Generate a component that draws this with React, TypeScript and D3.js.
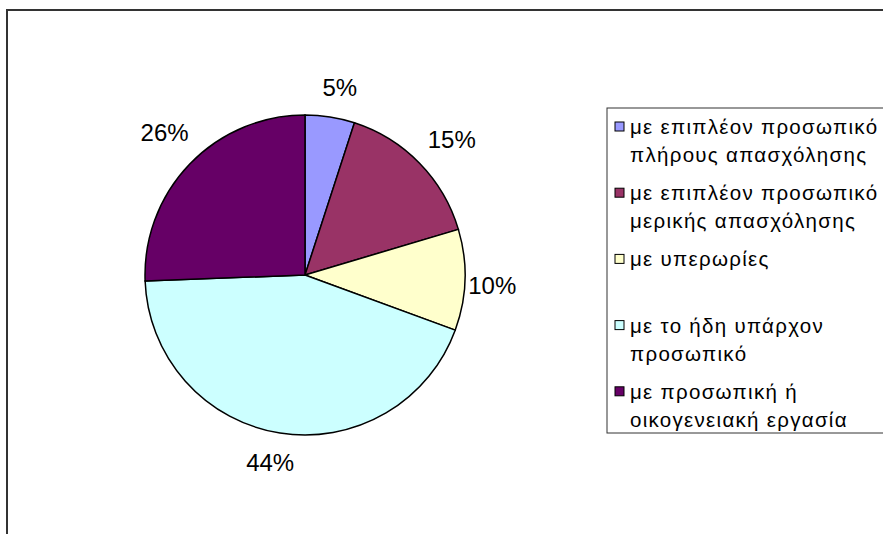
import React from 'react';
import * as d3 from 'd3';

// categories (legend lines, wrapped as in the original)
const categories = [
  ['με επιπλέον προσωπικό', 'πλήρους απασχόλησης'],
  ['με επιπλέον προσωπικό', 'μερικής απασχόλησης'],
  ['με υπερωρίες'],
  ['με το ήδη υπάρχον', 'προσωπικό'],
  ['με προσωπική ή', 'οικογενειακή εργασία'],
];
const values = [5, 15.4, 10.2, 43.8, 25.6];
const labels = ['5%', '15%', '10%', '44%', '26%'];
const colors = ['#9999FF', '#993366', '#FFFFCC', '#CCFFFF', '#660066'];

const W = 883;
const H = 534;
const cx = 305;
const cy = 275;
const radius = 160;
const font = '"Liberation Sans", Arial, sans-serif';

const App = () => {
  const pie = d3.pie<number>().sort(null).value((d) => d);
  const arcs = pie(values);
  const arc = d3.arc<d3.PieArcDatum<number>>().innerRadius(0).outerRadius(radius);

  // outside labels: wider text boxes sit further out on the diagonals
  const labelPos = (a: d3.PieArcDatum<number>) => {
    const ang = (a.startAngle + a.endAngle) / 2 + (1.5 * Math.PI) / 180;
    const r = 186 + 14 * Math.abs(Math.sin(2 * ang));
    return [r * Math.sin(ang), -r * Math.cos(ang)];
  };

  // legend layout
  const legendX = 607;
  const legendY = 108;
  const slot = 66.2;
  const lineGap = 28;
  const firstLine = 126.5;

  return (
    <svg
      width={W}
      height={H}
      style={{ position: 'absolute', left: 0, top: 0, background: '#fff' }}
    >
      <rect x={7} y={10} width={W + 20} height={H + 20} fill="none" stroke="#333" strokeWidth={2} />

      <g transform={`translate(${cx},${cy})`}>
        {arcs.map((a, i) => (
          <path key={i} d={arc(a) || ''} fill={colors[i]} stroke="#000" strokeWidth={1.5} />
        ))}
        {arcs.map((a, i) => {
          const [x, y] = labelPos(a);
          return (
            <text
              key={i}
              x={x}
              y={y}
              textAnchor="middle"
              dominantBaseline="central"
              fontFamily={font}
              fontSize={24}
              fill="#000"
            >
              {labels[i]}
            </text>
          );
        })}
      </g>

      <rect x={legendX} y={legendY} width={400} height={325} fill="#fff" stroke="#333" strokeWidth={1} />
      {categories.map((lines, i) => {
        const y0 = firstLine + i * slot;
        return (
          <g key={i}>
            <rect x={615} y={y0 - 4.5} width={9} height={9} fill={colors[i]} stroke="#000" strokeWidth={1} />
            {lines.map((t, j) => (
              <text
                key={j}
                x={630}
                y={y0 + j * lineGap}
                dominantBaseline="central"
                fontFamily={font}
                fontSize={20.5}
                letterSpacing={1.3}
                fill="#000"
              >
                {t}
              </text>
            ))}
          </g>
        );
      })}
    </svg>
  );
};

export default App;
